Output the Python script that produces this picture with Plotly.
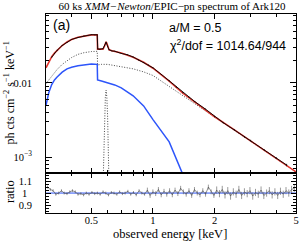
import plotly.graph_objects as go
from plotly.subplots import make_subplots

# ---------------- data ----------------
# total model (red)
model_E = [0.30, 0.31, 0.32, 0.33, 0.34, 0.36, 0.38, 0.40, 0.43, 0.46, 0.50, 0.534,
           0.536, 0.55, 0.57, 0.58, 0.585, 0.59, 0.595, 0.60, 0.61, 0.63, 0.65, 0.70,
           0.80, 0.90, 1.0, 1.2, 1.4, 1.6, 2.0, 2.5, 3.0, 4.0, 5.0]
model_F = [0.0160, 0.0195, 0.0226, 0.0253, 0.0277, 0.0320, 0.0357, 0.0385, 0.0414, 0.0431,
           0.0445, 0.0445, 0.0285, 0.0287, 0.0286, 0.0316, 0.0343, 0.0359, 0.0342, 0.0314,
           0.0280, 0.0272, 0.0266, 0.0253, 0.0222, 0.0190, 0.0158, 0.0106, 0.0073, 0.0056,
           0.00350, 0.00233, 0.00166, 0.00097, 0.00063]

# power-law component (dotted)
pl_E = [0.30, 0.31, 0.32, 0.33, 0.34, 0.36, 0.38, 0.40, 0.43, 0.46, 0.50, 0.534,
        0.536, 0.56, 0.60, 0.65, 0.70, 0.80, 0.90, 1.0, 1.2, 1.4, 1.6, 2.0, 2.5, 3.0, 4.0, 5.0]
pl_F = [0.0098, 0.0110, 0.0124, 0.0138, 0.0152, 0.0178, 0.0200, 0.0220, 0.0243, 0.0256,
        0.0265, 0.0267, 0.0175, 0.0178, 0.0178, 0.0172, 0.0167, 0.0155, 0.0141, 0.0126,
        0.00897, 0.00674, 0.00526, 0.00347, 0.00232, 0.00165, 0.00097, 0.00063]

# reflection component (blue)
refl_E = [0.30, 0.31, 0.32, 0.33, 0.34, 0.36, 0.38, 0.40, 0.43, 0.46, 0.50, 0.534,
          0.536, 0.56, 0.60, 0.65, 0.70, 0.80, 0.90, 1.0, 1.2, 1.4, 1.6]
refl_F = [0.0050, 0.0075, 0.0095, 0.0110, 0.0120, 0.0140, 0.0155, 0.0163, 0.0170, 0.0174,
          0.0180, 0.0178, 0.0110, 0.0106, 0.0100, 0.0094, 0.0086, 0.0067, 0.0049, 0.0032,
          0.0016, 0.00058, 0.00030]

# narrow gaussian line (dotted)
line_E = [0.570, 0.575, 0.580, 0.585, 0.590, 0.595, 0.600, 0.605, 0.610]
line_F = [0.0004, 0.0014, 0.0036, 0.0064, 0.0080, 0.0064, 0.0036, 0.0014, 0.0004]

# unfolded data (black)
data_E = [0.32, 0.33, 0.34, 0.36, 0.38, 0.40, 0.43, 0.46, 0.48, 0.50, 0.52, 0.534,
          0.537, 0.55, 0.57, 0.58, 0.59, 0.60, 0.61, 0.63, 0.65, 0.70, 0.75, 0.80,
          0.85, 0.90, 0.95, 1.0, 1.1, 1.2, 1.3, 1.4, 1.5, 1.6, 1.8, 2.0, 2.2, 2.5,
          2.8, 3.0, 3.5, 4.0, 4.5]
data_F = [0.0222, 0.0250, 0.0276, 0.0320, 0.0352, 0.0386, 0.0410, 0.0433, 0.0438, 0.0447,
          0.0443, 0.0446, 0.0287, 0.0285, 0.0290, 0.0318, 0.0355, 0.0312, 0.0281, 0.0270,
          0.0268, 0.0250, 0.0240, 0.0224, 0.0204, 0.0189, 0.0175, 0.0160, 0.0130, 0.0107,
          0.0088, 0.0074, 0.0064, 0.0056, 0.00446, 0.00352, 0.00292, 0.00232, 0.00187,
          0.00167, 0.00124, 0.00097, 0.00078]
data_err = [0.0004, 0.0004, 0.0004, 0.0005, 0.0005, 0.0005, 0.0005, 0.0005, 0.0005, 0.0005,
            0.0005, 0.0005, 0.0004, 0.0004, 0.0004, 0.0004, 0.0004, 0.0004, 0.0004, 0.0003,
            0.0003, 0.0003, 0.0003, 0.0003, 0.0003, 0.0003, 0.0002, 0.0002, 0.0002, 0.0002,
            0.0002, 0.00015, 0.00012, 0.0001, 0.00008, 0.00007, 0.00006, 0.00005, 0.00004,
            0.00004, 0.00003, 0.00003, 0.00003]

# ratio panel
ratio_E = [0.305, 0.315, 0.325, 0.335, 0.346, 0.357, 0.368, 0.380, 0.392, 0.404,
           0.417, 0.430, 0.444, 0.458, 0.472, 0.487, 0.503, 0.519, 0.535, 0.552,
           0.570, 0.588, 0.606, 0.626, 0.645, 0.666, 0.687, 0.709, 0.731, 0.754,
           0.778, 0.803, 0.828, 0.855, 0.882, 0.910, 0.939, 0.968, 0.999, 1.031,
           1.063, 1.097, 1.132, 1.168, 1.205, 1.243, 1.282, 1.323, 1.365, 1.408,
           1.453, 1.499, 1.546, 1.595, 1.646, 1.698, 1.752, 1.807, 1.865, 1.924,
           1.985, 2.048, 2.113, 2.180, 2.249, 2.320, 2.394, 2.470, 2.548, 2.629,
           2.712, 2.798, 2.887, 2.978, 3.073, 3.170, 3.271, 3.374, 3.481, 3.592,
           3.705, 3.823, 3.944, 4.069, 4.198, 4.331, 4.468, 4.610, 4.756, 4.907]
ratio_V = [1.05, 1.03, 1.02, 0.99, 1.00, 1.02, 1.00, 0.995, 1.01, 1.02,
           1.01, 0.99, 0.995, 0.985, 1.00, 0.99, 1.005, 0.995, 1.00, 0.99,
           1.01, 1.00, 0.985, 1.005, 1.00, 0.99, 1.01, 0.995, 1.00, 1.015,
           0.99, 1.005, 0.985, 1.02, 1.00, 0.99, 1.025, 0.98, 1.01, 0.995,
           1.03, 0.985, 1.015, 0.99, 1.02, 0.985, 1.025, 0.995, 1.04, 1.01,
           0.99, 1.02, 0.98, 1.03, 1.00, 0.985, 1.02, 0.99, 1.05, 1.01,
           0.98, 1.025, 0.995, 1.03, 0.985, 1.02, 0.975, 1.01, 0.99, 1.03,
           0.98, 1.01, 0.995, 1.02, 0.975, 1.005, 0.99, 1.025, 0.98, 1.00,
           1.02, 0.985, 1.01, 0.98, 1.015, 0.99, 1.02, 1.00, 1.03, 1.04]
ratio_err = [0.012, 0.012, 0.012, 0.012, 0.012, 0.012, 0.012, 0.012, 0.012, 0.012,
             0.012, 0.012, 0.012, 0.012, 0.012, 0.012, 0.012, 0.012, 0.012, 0.012,
             0.012, 0.012, 0.012, 0.012, 0.012, 0.012, 0.012, 0.012, 0.012, 0.012,
             0.012, 0.012, 0.012, 0.012, 0.012, 0.012, 0.02, 0.02, 0.02, 0.02,
             0.02, 0.02, 0.02, 0.02, 0.02, 0.02, 0.02, 0.02, 0.02, 0.02,
             0.02, 0.02, 0.02, 0.02, 0.02, 0.02, 0.02, 0.02, 0.02, 0.02,
             0.02, 0.03, 0.03, 0.03, 0.03, 0.03, 0.03, 0.03, 0.03, 0.03,
             0.03, 0.03, 0.03, 0.03, 0.03, 0.03, 0.03, 0.03, 0.03, 0.03,
             0.03, 0.03, 0.03, 0.03, 0.03, 0.03, 0.03, 0.03, 0.03, 0.03]
unity_E = [0.30, 5.0]
unity_V = [1.0, 1.0]

x_ticks = [0.5, 1, 2, 5]
x_ticktext = ["0.5", "1", "2", "5"]
x_minor = [0.3, 0.4, 0.6, 0.7, 0.8, 0.9, 3, 4]
y_ticks = [0.001, 0.01]
y_ticktext = ["10<sup>\u22123</sup>", "0.01"]
y_minor = [0.0007, 0.0008, 0.0009, 0.002, 0.003, 0.004, 0.005, 0.006, 0.007, 0.008,
           0.009, 0.02, 0.03, 0.04, 0.05, 0.06, 0.07, 0.08]
r_ticks = [0.9, 1.0, 1.1]
r_ticktext = ["0.9", "1\u00a0\u2009", "1.1"]

RED = "rgb(226,52,44)"
BLUE = "rgb(45,85,250)"
SERIF = "Liberation Serif"
SANS = "Liberation Sans"
DOTS = "1px,1.6px"

fig = make_subplots(rows=2, cols=1, shared_xaxes=True, vertical_spacing=0,
                    row_heights=[159 / 199, 40 / 199])

fig.add_trace(go.Scatter(x=pl_E, y=pl_F, mode="lines",
                         line=dict(color="#333", width=0.9, dash=DOTS)), row=1, col=1)
fig.add_trace(go.Scatter(x=line_E, y=line_F, mode="lines",
                         line=dict(color="#333", width=0.9, dash=DOTS)), row=1, col=1)
fig.add_trace(go.Scatter(x=refl_E, y=refl_F, mode="lines",
                         line=dict(color=BLUE, width=1.5)), row=1, col=1)
fig.add_trace(go.Scatter(x=model_E, y=model_F, mode="lines",
                         line=dict(color=RED, width=1.6)), row=1, col=1)
fig.add_trace(go.Scatter(x=data_E, y=data_F, mode="lines",
                         line=dict(color="black", width=0.9),
                         error_y=dict(type="data", array=data_err, color="black",
                                      thickness=0.8, width=0)), row=1, col=1)

fig.add_trace(go.Scatter(x=unity_E, y=unity_V, mode="lines",
                         line=dict(color=BLUE, width=1)), row=2, col=1)
fig.add_trace(go.Scatter(x=ratio_E, y=ratio_V, mode="lines",
                         line=dict(color="#444", width=0.6),
                         error_y=dict(type="data", array=ratio_err, color="#555",
                                      thickness=0.6, width=0)), row=2, col=1)

axis_common = dict(showline=True, linecolor="black", linewidth=1, mirror="allticks",
                   ticks="inside", tickcolor="black", tickwidth=1, showgrid=False,
                   zeroline=False, automargin=False,
                   tickfont=dict(family=SERIF, size=10.5, color="black"))

fig.update_xaxes(type="log", range=[0.30103 - 0.8239087, 0.69897], **axis_common)
fig.update_xaxes(row=1, col=1, tickvals=x_ticks, showticklabels=False, ticklen=5,
                 minor=dict(tickmode="array", tickvals=x_minor, ticks="inside",
                            ticklen=3, tickcolor="black"))
fig.update_xaxes(row=2, col=1, tickvals=x_ticks, ticktext=x_ticktext, ticklen=5,
                 showticklabels=True, ticklabelstandoff=-3,
                 minor=dict(tickmode="array", tickvals=x_minor, ticks="inside",
                            ticklen=3, tickcolor="black"))

fig.update_yaxes(row=1, col=1, type="log", range=[-3.215, -1.07], tickvals=y_ticks,
                 ticktext=y_ticktext, ticklen=6, ticklabelstandoff=11,
                 minor=dict(tickmode="array", tickvals=y_minor, ticks="inside",
                            ticklen=3, tickcolor="black"), **axis_common)
fig.update_yaxes(row=2, col=1, range=[0.834, 1.167], tickvals=r_ticks,
                 ticktext=r_ticktext, ticklen=5, ticklabelstandoff=11,
                 minor=dict(dtick=0.025, ticks="inside", ticklen=3, tickcolor="black"),
                 **axis_common)

fig.update_layout(
    width=299, height=243,
    margin=dict(l=46, r=3, t=14, b=30, autoexpand=False),
    paper_bgcolor="white", plot_bgcolor="white",
    showlegend=False,
    title=dict(text="60 ks <i>XMM\u2212Newton</i>/EPIC\u2212pn spectrum of Ark120",
               x=0.504, xref="paper", xanchor="center", y=1 - 6.5 / 243, yref="container",
               yanchor="middle", font=dict(family=SERIF, size=11, color="black")),
    annotations=[
        dict(text="(a)", x=0.02, y=0.945, xref="paper", yref="paper", xanchor="left",
             yanchor="middle", showarrow=False, font=dict(family=SANS, size=14, color="black")),
        dict(text="a/M = 0.5", x=0.484, y=0.93, xref="paper", yref="paper", xanchor="left",
             yanchor="middle", showarrow=False, font=dict(family=SANS, size=12.5, color="black")),
        dict(text="\u03c7<sup>2</sup>/dof = 1014.64/944", x=0.488, y=0.844, xref="paper",
             yref="paper", xanchor="left", yanchor="middle", showarrow=False,
             font=dict(family=SANS, size=12.5, color="black")),
        dict(text="ph cts cm<sup>\u22122</sup> s<sup>\u22121</sup> keV<sup>\u22121</sup>",
             x=-0.144, y=0.60, xref="paper", yref="paper", xanchor="center",
             yanchor="middle", textangle=-90, showarrow=False,
             font=dict(family=SERIF, size=12, color="black")),
        dict(text="ratio", x=-0.144, y=0.105, xref="paper", yref="paper", xanchor="center",
             yanchor="middle", textangle=-90, showarrow=False,
             font=dict(family=SERIF, size=12.5, color="black")),
        dict(text="observed energy [keV]", x=0.496, y=-0.108, xref="paper", yref="paper",
             xanchor="center", yanchor="middle", showarrow=False,
             font=dict(family=SERIF, size=12.5, color="black")),
    ],
)

fig.write_html("out.html", config={"displayModeBar": False},
               post_script="document.body.style.margin='0';"
                           "document.documentElement.style.overflow='hidden';")
